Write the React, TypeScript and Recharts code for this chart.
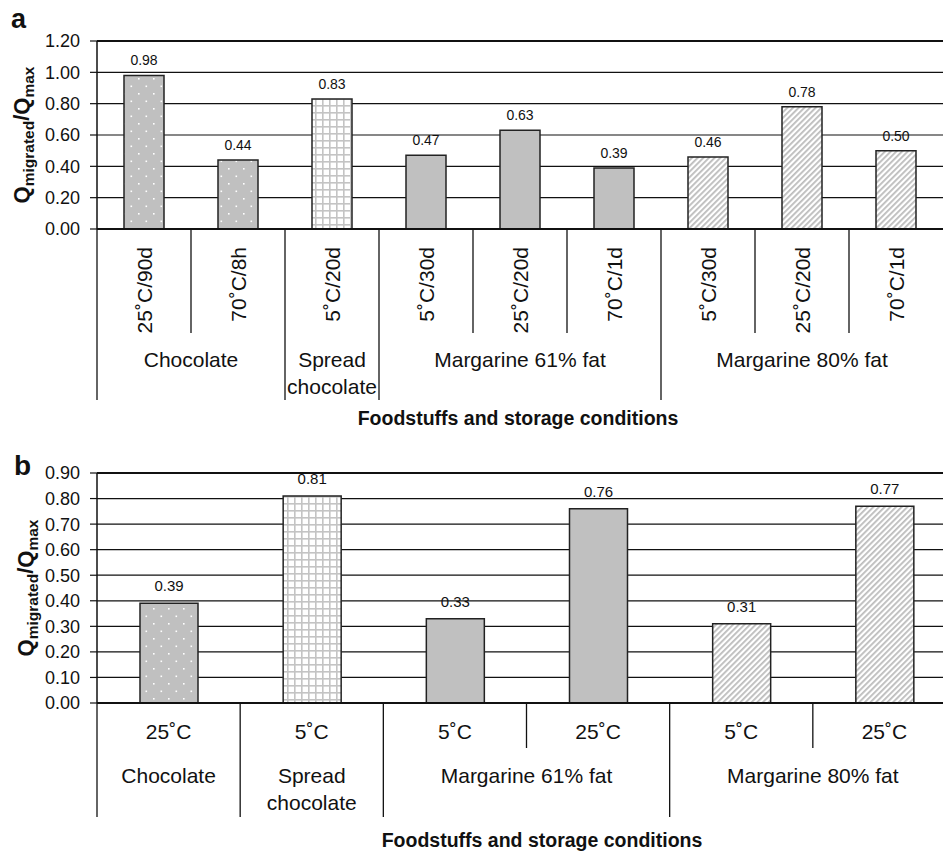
import React from 'react'
import { Bar, BarChart, CartesianGrid, Cell, LabelList, ReferenceLine, XAxis, YAxis } from 'recharts'

// panel a
const conditionsA = ['25˚C/90d', '70˚C/8h', '5˚C/20d', '5˚C/30d', '25˚C/20d', '70˚C/1d', '5˚C/30d', '25˚C/20d', '70˚C/1d']
const valuesA = [0.98, 0.44, 0.83, 0.47, 0.63, 0.39, 0.46, 0.78, 0.5]
const foodsA = [
    'Chocolate',
    'Chocolate',
    'Spread chocolate',
    'Margarine 61% fat',
    'Margarine 61% fat',
    'Margarine 61% fat',
    'Margarine 80% fat',
    'Margarine 80% fat',
    'Margarine 80% fat',
]
const ticksA = [0, 0.2, 0.4, 0.6, 0.8, 1.0, 1.2]

// panel b
const conditionsB = ['25˚C', '5˚C', '5˚C', '25˚C', '5˚C', '25˚C']
const valuesB = [0.39, 0.81, 0.33, 0.76, 0.31, 0.77]
const foodsB = [
    'Chocolate',
    'Spread chocolate',
    'Margarine 61% fat',
    'Margarine 61% fat',
    'Margarine 80% fat',
    'Margarine 80% fat',
]
const ticksB = [0, 0.1, 0.2, 0.3, 0.4, 0.5, 0.6, 0.7, 0.8, 0.9]

const axisTitle = 'Foodstuffs and storage conditions'

const FONT = '"Liberation Sans", Arial, Helvetica, sans-serif'
const INK = '#111'
const CAT_FONT = 21

const fills: Record<string, string> = {
    Chocolate: 'url(#dots)',
    'Spread chocolate': 'url(#grid)',
    'Margarine 61% fat': '#c0c0c0',
    'Margarine 80% fat': 'url(#diag)',
}

type Layout = {
    width: number
    height: number
    top: number
    plotH: number
    yAxisW: number
    right: number
    barSize: number
    shortDiv: number
    longDiv: number
    rotated: boolean
    condY: number
    groupBase: number
    titleBase: number
    titleX: number
    qX: number
    labelOffset: number
    valueFont: number
}

const layoutA: Layout = {
    width: 943,
    height: 440,
    top: 41,
    plotH: 188,
    yAxisW: 97,
    right: 0,
    barSize: 40,
    shortDiv: 104,
    longDiv: 171,
    rotated: true,
    condY: 18,
    groupBase: 138,
    titleBase: 425,
    titleX: 518,
    qX: 29,
    labelOffset: 10,
    valueFont: 14,
}

const layoutB: Layout = {
    width: 960,
    height: 417,
    top: 33,
    plotH: 230,
    yAxisW: 97,
    right: 4,
    barSize: 58,
    shortDiv: 45,
    longDiv: 114,
    rotated: false,
    condY: 36,
    groupBase: 80,
    titleBase: 407,
    titleX: 542,
    qX: 33,
    labelOffset: 12,
    valueFont: 15,
}

// rough greedy word wrap (about half an em per character)
const wrap = (label: string, maxW: number) => {
    const lines: string[] = []
    let cur = ''
    label.split(' ').forEach((w) => {
        const next = cur ? cur + ' ' + w : w
        if (cur && next.length * CAT_FONT * 0.5 > maxW) {
            lines.push(cur)
            cur = w
        } else {
            cur = next
        }
    })
    if (cur) lines.push(cur)
    return lines
}

const makeTick = (conds: string[], foods: string[], L: Layout) => (props: any) => {
    const { x } = props
    const i = props.index ?? props.payload?.index ?? 0
    const y0 = L.top + L.plotH
    const step = (L.width - L.yAxisW - L.right) / conds.length
    const food = foods[i]
    const first = i === 0 || foods[i - 1] !== food
    const n = foods.filter((f) => f === food).length
    const left = x - step / 2
    const gx = left + (n * step) / 2
    return (
        <g>
            <line
                x1={left}
                x2={left}
                y1={y0}
                y2={y0 + (first ? L.longDiv : L.shortDiv)}
                stroke={INK}
                strokeWidth={1.3}
            />
            {L.rotated ? (
                <text
                    x={x}
                    y={y0 + L.condY}
                    transform={`rotate(-90, ${x}, ${y0 + L.condY})`}
                    textAnchor="end"
                    dy="0.36em"
                    fontSize={CAT_FONT}
                    fill={INK}
                >
                    {conds[i]}
                </text>
            ) : (
                <text x={x} y={y0 + L.condY} textAnchor="middle" fontSize={CAT_FONT} fill={INK}>
                    {conds[i]}
                </text>
            )}
            {first && (
                <text x={gx} y={y0 + L.groupBase} textAnchor="middle" fontSize={CAT_FONT} fill={INK}>
                    {wrap(food, n * step - 8).map((line, k) => (
                        <tspan key={k} x={gx} dy={k === 0 ? 0 : 27}>
                            {line}
                        </tspan>
                    ))}
                </text>
            )}
        </g>
    )
}

const QLabel = ({ x, cy }: { x: number; cy: number }) => (
    <text
        x={x}
        y={cy}
        transform={`rotate(-90, ${x}, ${cy})`}
        textAnchor="middle"
        fontWeight="bold"
        fontSize={22}
        fill={INK}
    >
        Q
        <tspan fontSize={15.5} dy={5}>
            migrated
        </tspan>
        <tspan dy={-5}>/Q</tspan>
        <tspan fontSize={15.5} dy={5}>
            max
        </tspan>
    </text>
)

type PanelProps = {
    conds: string[]
    values: number[]
    foods: string[]
    ticks: number[]
    L: Layout
}

const Panel = ({ conds, values, foods, ticks, L }: PanelProps) => {
    const data = conds.map((c, i) => ({ cond: c, value: values[i], food: foods[i] }))
    const max = ticks[ticks.length - 1]
    return (
        <BarChart
            width={L.width}
            height={L.height}
            data={data}
            margin={{ top: L.top, right: L.right, bottom: 0, left: 0 }}
        >
            <CartesianGrid vertical={false} stroke={INK} strokeWidth={1.2} />
            <XAxis
                dataKey="cond"
                interval={0}
                height={L.height - L.top - L.plotH}
                tickLine={false}
                tickSize={0}
                tickMargin={0}
                axisLine={{ stroke: INK, strokeWidth: 2 }}
                tick={makeTick(conds, foods, L)}
                label={{
                    content: () => (
                        <text
                            x={L.titleX}
                            y={L.titleBase}
                            textAnchor="middle"
                            fontWeight="bold"
                            fontSize={19.5}
                            fill={INK}
                        >
                            {axisTitle}
                        </text>
                    ),
                }}
            />
            <YAxis
                width={L.yAxisW}
                domain={[0, max]}
                ticks={ticks}
                interval={0}
                tickFormatter={(v: number) => v.toFixed(2)}
                tickSize={7}
                tickMargin={10}
                tick={{ fontSize: 18, fill: INK }}
                axisLine={{ stroke: INK, strokeWidth: 1.5 }}
                tickLine={{ stroke: INK, strokeWidth: 1.2 }}
                label={{ content: () => <QLabel x={L.qX} cy={L.top + L.plotH / 2} /> }}
            />
            <ReferenceLine y={max} stroke={INK} strokeWidth={2} />
            <Bar dataKey="value" barSize={L.barSize} stroke="#222" strokeWidth={1.5} isAnimationActive={false}>
                {data.map((d, i) => (
                    <Cell key={i} fill={fills[d.food]} />
                ))}
                <LabelList
                    dataKey="value"
                    position="top"
                    offset={L.labelOffset}
                    formatter={(v: any) => Number(v).toFixed(2)}
                    fontSize={L.valueFont}
                    fill={INK}
                />
            </Bar>
        </BarChart>
    )
}

export default function App() {
    return (
        <div
            style={{
                position: 'fixed',
                left: 0,
                top: 0,
                width: 943,
                height: 857,
                overflow: 'hidden',
                background: '#fff',
                fontFamily: FONT,
            }}
        >
            <svg width={0} height={0} style={{ position: 'absolute' }}>
                <defs>
                    <pattern id="dots" width="15" height="15" patternUnits="userSpaceOnUse">
                        <rect width="15" height="15" fill="#c0c0c0" />
                        <rect x="3" y="3" width="1.6" height="1.6" fill="#fff" />
                        <rect x="10.5" y="10.5" width="1.6" height="1.6" fill="#fff" />
                    </pattern>
                    <pattern id="grid" width="7" height="7" patternUnits="userSpaceOnUse">
                        <rect width="7" height="7" fill="#fff" />
                        <rect width="7" height="1.6" fill="#c4c4c4" />
                        <rect width="1.6" height="7" fill="#c4c4c4" />
                    </pattern>
                    <pattern
                        id="diag"
                        width="4"
                        height="4"
                        patternUnits="userSpaceOnUse"
                        patternTransform="rotate(45)"
                    >
                        <rect width="4" height="4" fill="#fff" />
                        <rect width="1.8" height="4" fill="#bcbcbc" />
                    </pattern>
                </defs>
            </svg>
            <div style={{ position: 'absolute', left: 0, top: 0 }}>
                <Panel conds={conditionsA} values={valuesA} foods={foodsA} ticks={ticksA} L={layoutA} />
            </div>
            <div style={{ position: 'absolute', left: 0, top: 440 }}>
                <Panel conds={conditionsB} values={valuesB} foods={foodsB} ticks={ticksB} L={layoutB} />
            </div>
            <svg
                width={943}
                height={857}
                style={{ position: 'absolute', left: 0, top: 0, pointerEvents: 'none' }}
            >
                <text x={11} y={28} fontSize={27} fontWeight="bold" fill={INK}>
                    a
                </text>
                <text x={14} y={475} fontSize={28} fontWeight="bold" fill={INK}>
                    b
                </text>
            </svg>
        </div>
    )
}
